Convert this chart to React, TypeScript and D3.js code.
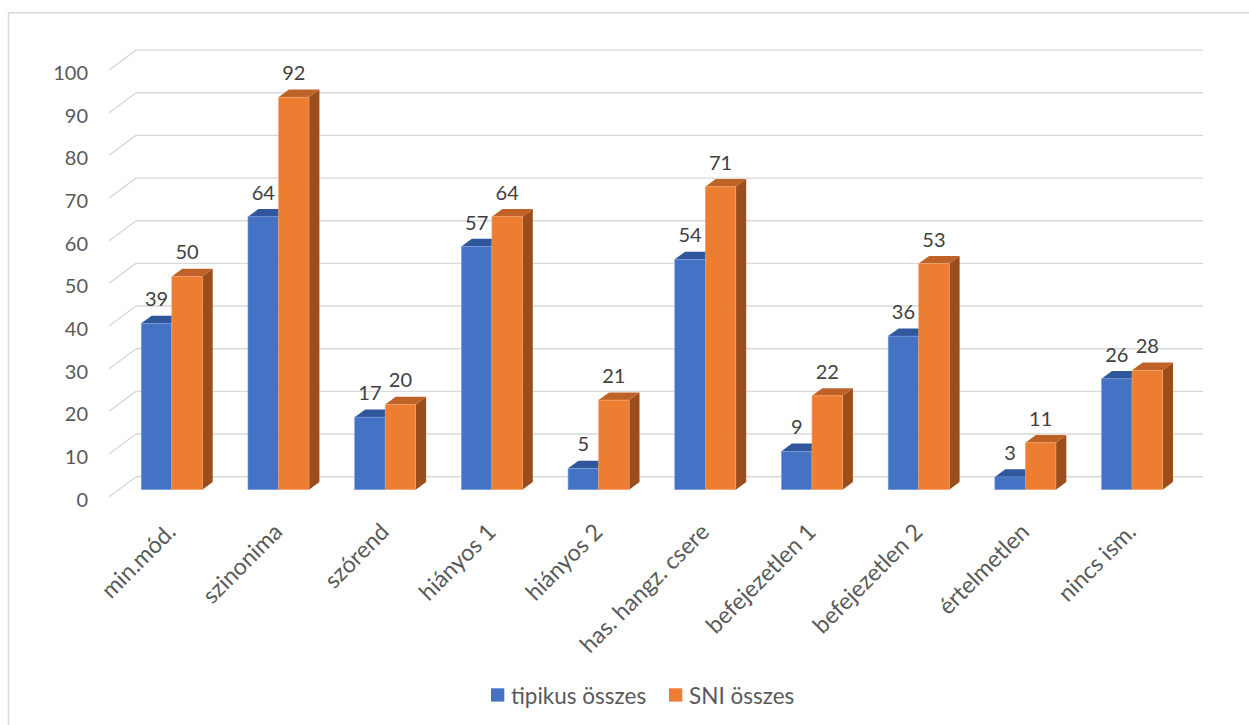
import React from "react";
import * as d3 from "d3";

const categories = [
  "min.mód.",
  "szinonima",
  "szórend",
  "hiányos 1",
  "hiányos 2",
  "has. hangz. csere",
  "befejezetlen 1",
  "befejezetlen 2",
  "értelmetlen",
  "nincs ism.",
];
const tipikus = [39, 64, 17, 57, 5, 54, 9, 36, 3, 26];
const sni = [50, 92, 20, 64, 21, 71, 22, 53, 11, 28];
const yTicks = [0, 10, 20, 30, 40, 50, 60, 70, 80, 90, 100];
const seriesNames = ["tipikus összes", "SNI összes"];

const W = 1249;
const H = 725;
const FONT = "Lato, 'Open Sans', sans-serif";

// 3D layout: the back wall sits at depth 0, the front edge of the floor is
// shifted left by FLOOR_DX and down by FLOOR_DY.
const BACK_LEFT = 136;
const BACK_RIGHT = 1203;
const BACK_BASE = 476.7;
const FLOOR_DX = 27;
const FLOOR_DY = 20;
const BAR_FRONT = 0.35; // bar front face, as fraction of floor depth from the front
const BAR_BACK = 0.735;

const palette = [
  { face: "#4472C4", top: "#30569C", side: "#2B4C88", edge: "#7C9DDB" },
  { face: "#ED7D31", top: "#BF6228", side: "#9B4E1C", edge: "#F6A872" },
];

export default function App() {
  const h = d3.scaleLinear().domain([0, 100]).range([0, 426.6]);
  const x = d3
    .scaleBand<string>()
    .domain(categories)
    .range([BACK_LEFT, BACK_RIGHT])
    .paddingInner(0.428)
    .paddingOuter(0.214);

  const yBack = (v: number) => BACK_BASE - h(v);
  const yFront = (v: number) => BACK_BASE + FLOOR_DY - h(v);

  // bar front and back plane offsets
  const fShiftX = -FLOOR_DX * (1 - BAR_FRONT);
  const fBase = BACK_BASE + FLOOR_DY * (1 - BAR_FRONT);
  const bShiftX = -FLOOR_DX * (1 - BAR_BACK);
  const bBase = BACK_BASE + FLOOR_DY * (1 - BAR_BACK);
  const dx = bShiftX - fShiftX;
  const dy = fBase - bBase;

  const bw = x.bandwidth() / 2;
  const series = [tipikus, sni];

  const bars: React.ReactNode[] = [];
  const labels: React.ReactNode[] = [];
  categories.forEach((c, i) => {
    series.forEach((vals, s) => {
      const v = vals[i];
      const x0 = (x(c) as number) + fShiftX + s * bw;
      const x1 = x0 + bw;
      const yt = fBase - h(v);
      const yb = fBase;
      const col = palette[s];
      const pts = (arr: number[][]) => arr.map((p) => p.join(",")).join(" ");
      bars.push(
        <g key={`${c}-${s}`}>
          <polygon
            points={pts([
              [x1, yt],
              [x1 + dx, yt - dy],
              [x1 + dx, yb - dy],
              [x1, yb],
            ])}
            fill={col.side}
          />
          <polygon
            points={pts([
              [x0, yt],
              [x1, yt],
              [x1 + dx, yt - dy],
              [x0 + dx, yt - dy],
            ])}
            fill={col.top}
          />
          <rect
            x={x0}
            y={yt}
            width={bw}
            height={yb - yt}
            fill={col.face}
            stroke={col.edge}
            strokeWidth={0.6}
          />
        </g>
      );
      labels.push(
        <text
          key={`l-${c}-${s}`}
          x={x0 + bw / 2}
          y={yt - 25}
          textAnchor="middle"
          dominantBaseline="central"
          fontSize={20}
          fill="#404040"
        >
          {v}
        </text>
      );
    });
  });

  return (
    <svg
      width={W}
      height={H}
      style={{ position: "absolute", left: 0, top: 0, background: "#fff" }}
      fontFamily={FONT}
    >
      <rect x={0} y={0} width={W} height={H} fill="#fff" />
      {/* chart frame */}
      <path d={`M8.5,${H} V12.7 H${W}`} fill="none" stroke="#D9D9D9" strokeWidth={1.5} />

      {/* gridlines on the back wall with their slanted floor ends */}
      {yTicks.map((t) => (
        <g key={`g-${t}`} stroke="#D9D9D9" strokeWidth={1.4} fill="none">
          <line x1={BACK_LEFT} x2={BACK_RIGHT} y1={yBack(t)} y2={yBack(t)} />
          <line x1={BACK_LEFT - FLOOR_DX} y1={yFront(t)} x2={BACK_LEFT} y2={yBack(t)} />
        </g>
      ))}

      {/* y axis labels */}
      {yTicks.map((t) => (
        <text
          key={`t-${t}`}
          x={88}
          y={yFront(t) + 2}
          textAnchor="end"
          dominantBaseline="central"
          fontSize={20}
          fill="#595959"
        >
          {t}
        </text>
      ))}

      {bars}
      {labels}

      {/* category labels */}
      {categories.map((c) => {
        const cx = (x(c) as number) + fShiftX + bw - 1;
        const cy = 527;
        return (
          <text
            key={`c-${c}`}
            x={cx}
            y={cy}
            transform={`rotate(-45 ${cx} ${cy})`}
            textAnchor="end"
            dominantBaseline="central"
            fontSize={23.2}
            fill="#595959"
          >
            {c}
          </text>
        );
      })}

      {/* legend */}
      {seriesNames.map((n, s) => {
        const lx = s === 0 ? 491 : 669;
        return (
          <g key={`lg-${n}`}>
            <rect x={lx} y={688.3} width={13.3} height={13.3} fill={palette[s].face} />
            <text
              x={lx + 20}
              y={695}
              dominantBaseline="central"
              fontSize={22.5}
              fill="#595959"
            >
              {n}
            </text>
          </g>
        );
      })}
    </svg>
  );
}
